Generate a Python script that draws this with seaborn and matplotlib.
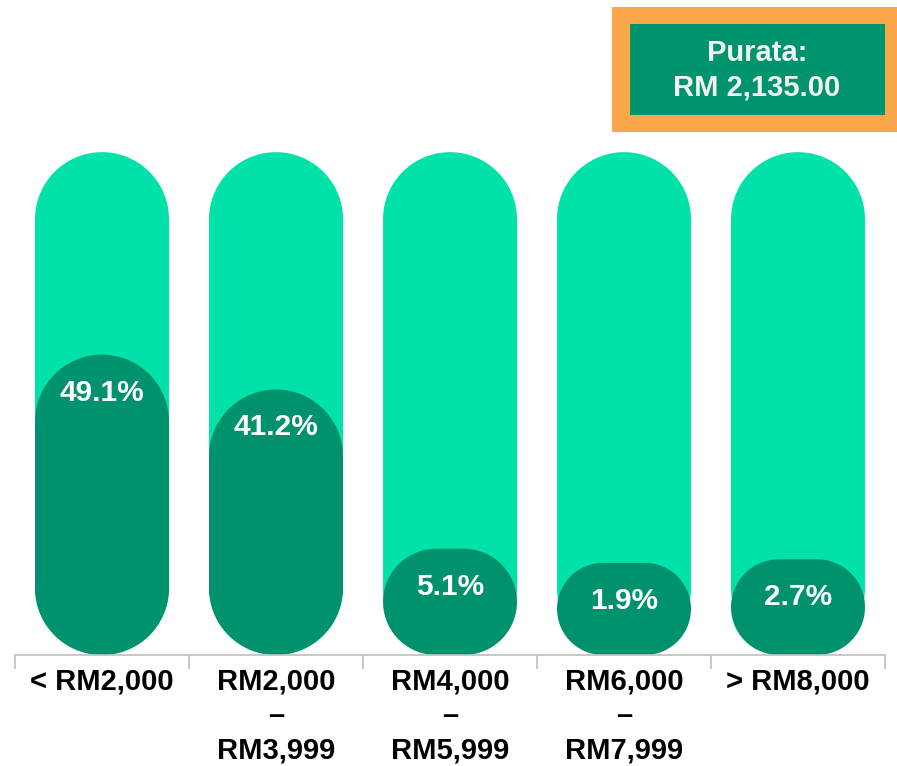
import matplotlib
matplotlib.use("Agg")
import matplotlib.pyplot as plt
from matplotlib.patches import Polygon, Rectangle
import seaborn as sns
import numpy as np
import pandas as pd

categories = ["< RM2,000", "RM2,000\n–\nRM3,999", "RM4,000\n–\nRM5,999",
              "RM6,000\n–\nRM7,999", "> RM8,000"]
shares = [49.1, 41.2, 5.1, 1.9, 2.7]
average_lines = ["Purata:", "RM 2,135.00"]

LIGHT = "#00E2A9"
DARK = "#00926C"
ORANGE = "#FAA74B"
BASE = 19      # minimum pill height (display units)
FULL = 114     # height of background pill

sns.set_theme(style="white")
plt.rcParams["font.family"] = ["Liberation Sans", "DejaVu Sans"]

df = pd.DataFrame({"cat": categories, "share": shares})
df["pill"] = df["share"] + BASE
df["full"] = FULL


def pill_xy(x0, y0, w, h, rx, ry, n=40):
    # rounded rectangle with elliptical (circular on screen) corners
    t = np.linspace(0, np.pi / 2, n)
    corners = [
        (x0 + w - rx, y0 + h - ry, t),
        (x0 + rx, y0 + h - ry, t + np.pi / 2),
        (x0 + rx, y0 + ry, t + np.pi),
        (x0 + w - rx, y0 + ry, t + 3 * np.pi / 2),
    ]
    pts = [np.column_stack([cx + rx * np.cos(a), cy + ry * np.sin(a)])
           for cx, cy, a in corners]
    return np.vstack(pts)


W, H = 897, 766
fig = plt.figure(figsize=(W / 100, H / 100), dpi=100)
ax = fig.add_axes([15 / W, (H - 655) / H, 870 / W, 655 / H])

sns.barplot(data=df, x="cat", y="full", color=LIGHT, width=0.77,
            saturation=1, ax=ax)
sns.barplot(data=df, x="cat", y="pill", color=DARK, width=0.77,
            saturation=1, ax=ax)
ax.set_xlim(-0.5, 4.5)
ax.set_ylim(0, 148.5)

# turn seaborn's rectangles into pills
x_px = ax.transData.transform((1, 0))[0] - ax.transData.transform((0, 0))[0]
y_px = ax.transData.transform((0, 1))[1] - ax.transData.transform((0, 0))[1]
aspect = x_px / y_px
for p in list(ax.patches):
    x0, y0 = p.get_x(), p.get_y()
    w, h = p.get_width(), p.get_height()
    rx = min(w, h / aspect) / 2
    ry = rx * aspect
    pill = Polygon(pill_xy(x0, y0, w, h, rx, ry), closed=True,
                   facecolor=p.get_facecolor(), edgecolor="none",
                   zorder=p.get_zorder())
    p.remove()
    ax.add_patch(pill)

for i, row in df.iterrows():
    ax.text(i, row["pill"] - 8.6, f"{row['share']:.1f}%", ha="center",
            va="center", color="white", fontsize=21.5, fontweight="bold")

sns.despine(ax=ax, left=True, top=True, right=True)
ax.spines["bottom"].set_color("#BFBFBF")
ax.spines["bottom"].set_linewidth(1.2)
ax.set_yticks([])
ax.set_xlabel("")
ax.set_ylabel("")
ax.tick_params(axis="x", which="major", length=0, pad=9)
ax.set_xticks([i - 0.5 for i in range(6)], minor=True)
ax.tick_params(axis="x", which="minor", length=10, width=1.2,
               color="#BFBFBF", bottom=True)
ax.set_xticklabels(categories, fontsize=21, fontweight="bold",
                   color="black", linespacing=1.3)

# average box
fig.add_artist(Rectangle((612 / W, 1 - 132 / H), 290 / W, 125 / H,
                         transform=fig.transFigure, facecolor=ORANGE,
                         edgecolor="none"))
fig.add_artist(Rectangle((630 / W, 1 - 115 / H), 255 / W, 91 / H,
                         transform=fig.transFigure, facecolor="#00946E",
                         edgecolor="none"))
fig.text(757 / W, 1 - 53 / H, average_lines[0], ha="center", va="center",
         color="#F2F2F2", fontsize=21, fontweight="bold")
fig.text(757 / W, 1 - 87 / H, average_lines[1], ha="center", va="center",
         color="#F2F2F2", fontsize=21, fontweight="bold")

fig.savefig("out.png", dpi=100)
